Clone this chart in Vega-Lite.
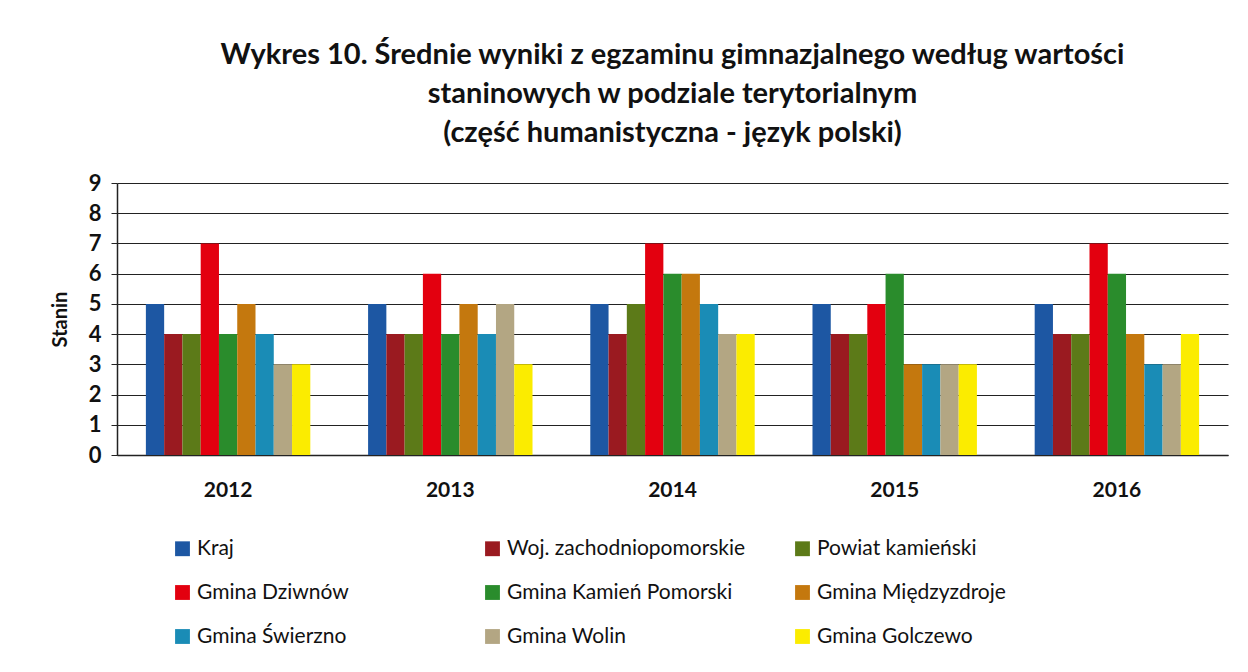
{
  "$schema": "https://vega.github.io/schema/vega-lite/v6.json",
  "width": 1111,
  "height": 272,
  "autosize": {"type": "none"},
  "padding": {"left": 117, "top": 183, "right": 20, "bottom": 217},
  "background": "white",
  "title": {
    "text": ["Wykres 10.  Średnie wyniki  z egzaminu gimnazjalnego według wartości", "staninowych w podziale terytorialnym", "(część humanistyczna - język polski)"],
    "font": "Lato",
    "fontSize": 29,
    "fontWeight": "bold",
    "color": "#111",
    "lineHeight": 39,
    "anchor": "middle",
    "offset": 24
  },
  "data": {
    "values": [
      {"rok": "2012", "jednostka": "Kraj", "stanin": 5},
      {"rok": "2012", "jednostka": "Woj. zachodniopomorskie", "stanin": 4},
      {"rok": "2012", "jednostka": "Powiat kamieński", "stanin": 4},
      {"rok": "2012", "jednostka": "Gmina Dziwnów", "stanin": 7},
      {"rok": "2012", "jednostka": "Gmina Kamień Pomorski", "stanin": 4},
      {"rok": "2012", "jednostka": "Gmina Międzyzdroje", "stanin": 5},
      {"rok": "2012", "jednostka": "Gmina Świerzno", "stanin": 4},
      {"rok": "2012", "jednostka": "Gmina Wolin", "stanin": 3},
      {"rok": "2012", "jednostka": "Gmina Golczewo", "stanin": 3},
      {"rok": "2013", "jednostka": "Kraj", "stanin": 5},
      {"rok": "2013", "jednostka": "Woj. zachodniopomorskie", "stanin": 4},
      {"rok": "2013", "jednostka": "Powiat kamieński", "stanin": 4},
      {"rok": "2013", "jednostka": "Gmina Dziwnów", "stanin": 6},
      {"rok": "2013", "jednostka": "Gmina Kamień Pomorski", "stanin": 4},
      {"rok": "2013", "jednostka": "Gmina Międzyzdroje", "stanin": 5},
      {"rok": "2013", "jednostka": "Gmina Świerzno", "stanin": 4},
      {"rok": "2013", "jednostka": "Gmina Wolin", "stanin": 5},
      {"rok": "2013", "jednostka": "Gmina Golczewo", "stanin": 3},
      {"rok": "2014", "jednostka": "Kraj", "stanin": 5},
      {"rok": "2014", "jednostka": "Woj. zachodniopomorskie", "stanin": 4},
      {"rok": "2014", "jednostka": "Powiat kamieński", "stanin": 5},
      {"rok": "2014", "jednostka": "Gmina Dziwnów", "stanin": 7},
      {"rok": "2014", "jednostka": "Gmina Kamień Pomorski", "stanin": 6},
      {"rok": "2014", "jednostka": "Gmina Międzyzdroje", "stanin": 6},
      {"rok": "2014", "jednostka": "Gmina Świerzno", "stanin": 5},
      {"rok": "2014", "jednostka": "Gmina Wolin", "stanin": 4},
      {"rok": "2014", "jednostka": "Gmina Golczewo", "stanin": 4},
      {"rok": "2015", "jednostka": "Kraj", "stanin": 5},
      {"rok": "2015", "jednostka": "Woj. zachodniopomorskie", "stanin": 4},
      {"rok": "2015", "jednostka": "Powiat kamieński", "stanin": 4},
      {"rok": "2015", "jednostka": "Gmina Dziwnów", "stanin": 5},
      {"rok": "2015", "jednostka": "Gmina Kamień Pomorski", "stanin": 6},
      {"rok": "2015", "jednostka": "Gmina Międzyzdroje", "stanin": 3},
      {"rok": "2015", "jednostka": "Gmina Świerzno", "stanin": 3},
      {"rok": "2015", "jednostka": "Gmina Wolin", "stanin": 3},
      {"rok": "2015", "jednostka": "Gmina Golczewo", "stanin": 3},
      {"rok": "2016", "jednostka": "Kraj", "stanin": 5},
      {"rok": "2016", "jednostka": "Woj. zachodniopomorskie", "stanin": 4},
      {"rok": "2016", "jednostka": "Powiat kamieński", "stanin": 4},
      {"rok": "2016", "jednostka": "Gmina Dziwnów", "stanin": 7},
      {"rok": "2016", "jednostka": "Gmina Kamień Pomorski", "stanin": 6},
      {"rok": "2016", "jednostka": "Gmina Międzyzdroje", "stanin": 4},
      {"rok": "2016", "jednostka": "Gmina Świerzno", "stanin": 3},
      {"rok": "2016", "jednostka": "Gmina Wolin", "stanin": 3},
      {"rok": "2016", "jednostka": "Gmina Golczewo", "stanin": 4}
    ]
  },
  "mark": {"type": "bar"},
  "encoding": {
    "x": {
      "field": "rok",
      "type": "nominal",
      "scale": {"paddingInner": 0.26, "paddingOuter": 0.13},
      "axis": {
        "title": null,
        "labelAngle": 0,
        "labelFont": "Lato",
        "labelFontSize": 21,
        "labelFontWeight": "bold",
        "labelColor": "#111",
        "labelPadding": 24,
        "ticks": false,
        "domainColor": "#222",
        "domainWidth": 1.5
      }
    },
    "xOffset": {
      "field": "jednostka",
      "type": "nominal",
      "sort": ["Kraj", "Woj. zachodniopomorskie", "Powiat kamieński", "Gmina Dziwnów", "Gmina Kamień Pomorski", "Gmina Międzyzdroje", "Gmina Świerzno", "Gmina Wolin", "Gmina Golczewo"],
      "scale": {"paddingInner": 0, "paddingOuter": 0}
    },
    "y": {
      "field": "stanin",
      "type": "quantitative",
      "scale": {"domain": [0, 9], "nice": false},
      "axis": {
        "title": "Stanin",
        "titleFont": "Lato",
        "titleFontSize": 20,
        "titleFontWeight": "bold",
        "titleColor": "#111",
        "titlePadding": 18,
        "values": [0, 1, 2, 3, 4, 5, 6, 7, 8, 9],
        "labelFont": "Lato",
        "labelFontSize": 22,
        "labelFontWeight": "bold",
        "labelColor": "#111",
        "labelPadding": 10,
        "ticks": true,
        "tickSize": 6,
        "tickColor": "#222",
        "domainColor": "#222",
        "domainWidth": 1.5,
        "grid": true,
        "gridColor": "#222",
        "gridWidth": 1.2
      }
    },
    "color": {
      "field": "jednostka",
      "type": "nominal",
      "scale": {
        "domain": ["Kraj", "Gmina Dziwnów", "Gmina Świerzno", "Woj. zachodniopomorskie", "Gmina Kamień Pomorski", "Gmina Wolin", "Powiat kamieński", "Gmina Międzyzdroje", "Gmina Golczewo"],
        "range": ["#1d57a3", "#e3000f", "#1a8cb6", "#9a1a20", "#2a8c2c", "#b3a683", "#5c7a18", "#c4780e", "#fbec00"]
      },
      "legend": {
        "title": null,
        "orient": "none",
        "legendX": 55,
        "legendY": 355,
        "columns": 3,
        "gridAlign": "all",
        "columnPadding": 46,
        "rowPadding": 22,
        "symbolType": "square",
        "symbolSize": 220,
        "symbolStrokeWidth": 0,
        "labelFont": "Lato",
        "labelFontSize": 21,
        "labelColor": "#111",
        "labelLimit": 400,
        "labelOffset": 4
      }
    }
  },
  "config": {
    "view": {"stroke": null}
  }
}
